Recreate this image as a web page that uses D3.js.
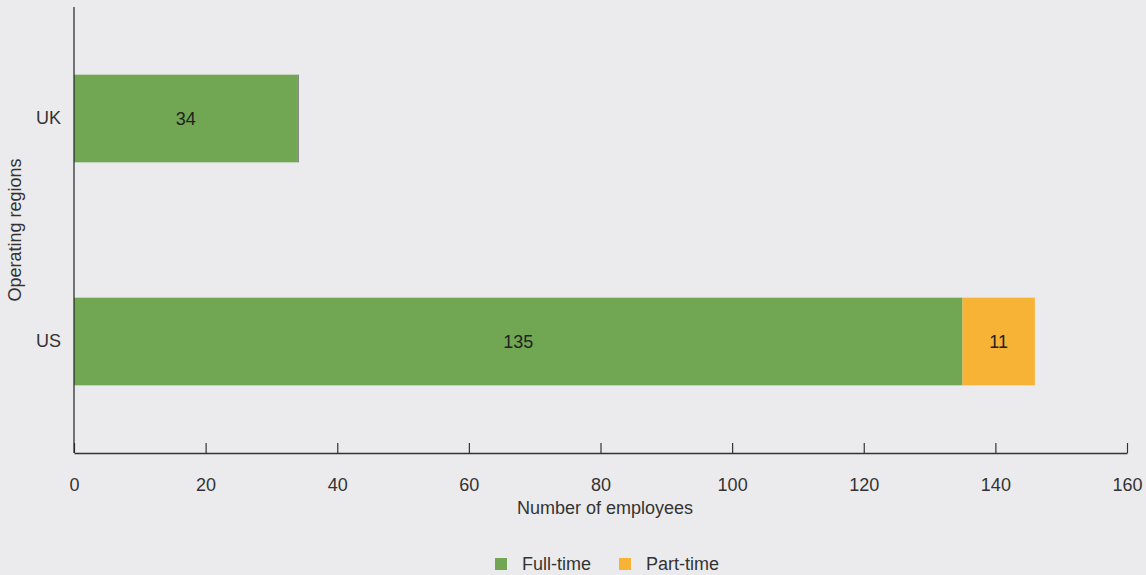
<!DOCTYPE html>
<html>
<head>
<meta charset="utf-8">
<script src="https://cdn.jsdelivr.net/npm/d3@7"></script>
<style>
  html, body { margin: 0; padding: 0; background: #ebebed; }
  svg { display: block; font-family: "Liberation Sans", Arial, sans-serif; }
  .axis text { font-size: 18px; fill: #333; }
</style>
</head>
<body>
<svg id="chart" width="1146" height="575"></svg>
<script>
// Employees by operating region, stacked full-time / part-time
const regions = ["UK", "US"]
const fullTime = [34, 135]
const partTime = [0, 11]
const seriesNames = ["Full-time", "Part-time"]
const seriesColors = ["#71a653", "#f6b335"]
const xTicks = [0, 20, 40, 60, 80, 100, 120, 140, 160]

const svg = d3.select("#chart")
const plot = { left: 74, right: 1127, top: 7, bottom: 453 }
const fontSize = 18

const x = d3.scaleLinear().domain([0, 160]).range([plot.left, plot.right])
const y = d3.scaleBand().domain(regions).range([plot.top, plot.bottom])
  .paddingInner(0.607).paddingOuter(0.3035)

const rows = regions.map((r, i) => ({ region: r, "Full-time": fullTime[i], "Part-time": partTime[i] }))
const stacked = d3.stack().keys(seriesNames)(rows)

// bars
stacked.forEach((layer, li) => {
  svg.append("g").selectAll("rect")
    .data(layer)
    .join("rect")
    .attr("x", d => x(d[0]))
    .attr("y", d => y(d.data.region))
    .attr("width", d => x(d[1]) - x(d[0]))
    .attr("height", y.bandwidth())
    .attr("fill", seriesColors[li])
})

// zero-width part-time segment shows as a thin grey edge in the original
stacked[1].filter(d => d[1] - d[0] === 0).forEach(d => {
  svg.append("line")
    .attr("x1", x(d[1]) + 0.5).attr("x2", x(d[1]) + 0.5)
    .attr("y1", y(d.data.region)).attr("y2", y(d.data.region) + y.bandwidth())
    .attr("stroke", "#666").attr("stroke-width", 1)
})

// value labels
stacked.forEach(layer => {
  svg.append("g").selectAll("text")
    .data(layer.filter(d => d[1] - d[0] > 0))
    .join("text")
    .attr("x", d => (x(d[0]) + x(d[1])) / 2)
    .attr("y", d => y(d.data.region) + y.bandwidth() / 2)
    .attr("dy", "0.35em")
    .attr("text-anchor", "middle")
    .attr("font-size", fontSize)
    .attr("fill", "#222")
    .text(d => d[1] - d[0])
})

// x axis, ticks pointing up into the plot
const xAxis = svg.append("g")
  .attr("class", "axis")
  .attr("transform", `translate(0,${plot.bottom})`)
  .call(d3.axisBottom(x).tickValues(xTicks).tickSize(0).tickPadding(25))
xAxis.select(".domain").attr("stroke", "#333").attr("stroke-width", 1.5)
xAxis.selectAll(".tick line").attr("y2", -10).attr("stroke", "#333").attr("stroke-width", 1.2)

// y axis
const yAxis = svg.append("g")
  .attr("class", "axis")
  .attr("transform", `translate(${plot.left},0)`)
  .call(d3.axisLeft(y).tickSize(0).tickPadding(13))
yAxis.select(".domain").attr("d", `M0,${plot.top}V${plot.bottom}`).attr("stroke", "#222").attr("stroke-width", 1.2)

// axis titles
svg.append("text")
  .attr("x", 605).attr("y", 514)
  .attr("text-anchor", "middle")
  .attr("font-size", fontSize).attr("fill", "#333")
  .text("Number of employees")

svg.append("text")
  .attr("transform", `translate(21,${(plot.top + plot.bottom) / 2}) rotate(-90)`)
  .attr("text-anchor", "middle")
  .attr("font-size", fontSize).attr("fill", "#333")
  .text("Operating regions")

// legend
const legendX = [495, 619]
const legend = svg.append("g")
seriesNames.forEach((name, i) => {
  legend.append("rect")
    .attr("x", legendX[i]).attr("y", 558)
    .attr("width", 12).attr("height", 12)
    .attr("fill", seriesColors[i])
  legend.append("text")
    .attr("x", legendX[i] + 27).attr("y", 570)
    .attr("font-size", fontSize).attr("fill", "#333")
    .text(name)
})
</script>
</body>
</html>
